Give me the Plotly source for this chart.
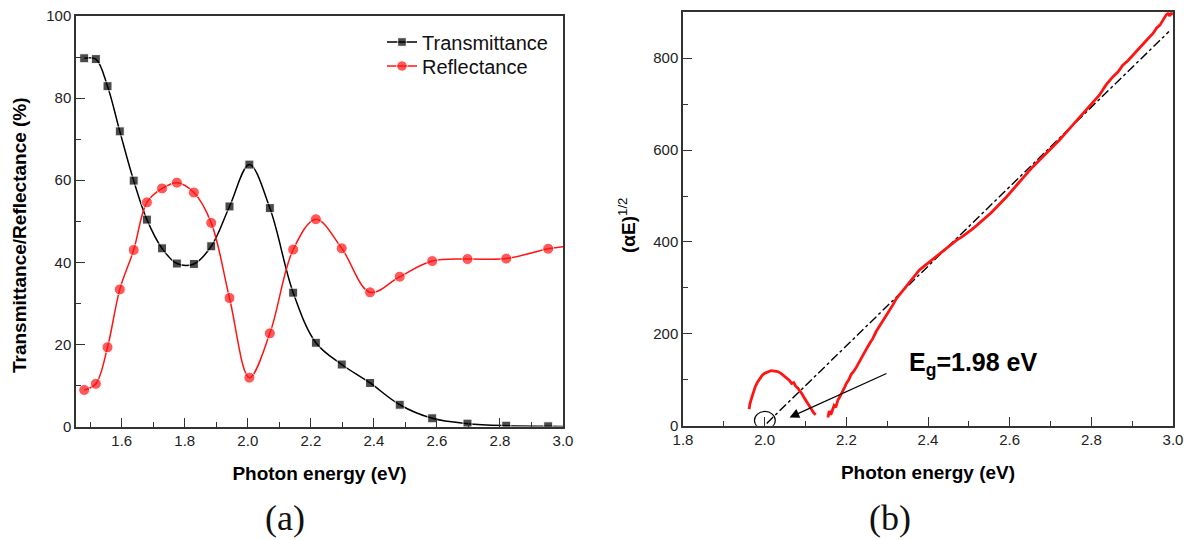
import plotly.graph_objects as go

# ---------------- data: panel (a) ----------------
energy_a = [1.481, 1.518, 1.555, 1.594, 1.638, 1.680, 1.728, 1.775, 1.829, 1.884, 1.942,
            2.005, 2.070, 2.144, 2.216, 2.298, 2.388, 2.482, 2.585, 2.697, 2.820, 2.953, 3.0]
transmittance = [89.7, 89.5, 82.9, 71.9, 59.9, 50.4, 43.4, 39.7, 39.6, 43.9, 53.6,
                 63.8, 53.2, 32.6, 20.4, 15.1, 10.6, 5.3, 2.0, 0.7, 0.2, 0.05, 0.0]
reflectance = [8.9, 10.4, 19.3, 33.4, 43.0, 54.6, 58.0, 59.4, 57.0, 49.6, 31.3,
               11.9, 22.7, 43.1, 50.5, 43.4, 32.7, 36.5, 40.3, 40.8, 40.9, 43.3, 43.8]
marker_on = [1] * 22 + [0]   # last entry is only the curve end at 3.0 eV

# ---------------- data: panel (b) ----------------
hump_x = [1.962, 1.964, 1.968, 1.972, 1.977, 1.982, 1.988, 1.994, 2.000, 2.008, 2.016, 2.024,
          2.032, 2.040, 2.047, 2.053, 2.060, 2.066, 2.071, 2.076, 2.082, 2.087, 2.091, 2.096,
          2.100, 2.104, 2.108, 2.112, 2.116, 2.120, 2.125]
hump_y = [36, 48, 60, 74, 85, 94, 103, 110, 114, 117, 120, 119,
          118, 114, 109, 103, 99, 92, 94, 86, 81, 74, 70, 62,
          56, 52, 44, 40, 33, 28, 24]

rise_x = [2.155, 2.158, 2.162, 2.166, 2.170, 2.174, 2.179, 2.184, 2.190, 2.196, 2.200, 2.206,
          2.212, 2.218, 2.225, 2.232, 2.240, 2.248, 2.257, 2.265, 2.273, 2.281, 2.290, 2.298,
          2.306, 2.314, 2.322, 2.331, 2.340, 2.350, 2.360, 2.370, 2.379, 2.390, 2.400, 2.410,
          2.420, 2.432, 2.445, 2.458, 2.470, 2.483, 2.495, 2.507, 2.518, 2.530, 2.542, 2.554,
          2.566, 2.579, 2.592, 2.606, 2.620, 2.638, 2.657, 2.673, 2.690, 2.706, 2.722, 2.738,
          2.755, 2.771, 2.788, 2.804, 2.820, 2.836, 2.853, 2.865, 2.877, 2.890, 2.902, 2.914,
          2.925, 2.938, 2.951, 2.960, 2.968, 2.976, 2.983, 2.988, 2.992, 2.996, 3.000]
rise_y = [18, 32, 24, 36, 44, 40, 55, 63, 72, 84, 92, 100,
          112, 118, 128, 140, 152, 165, 179, 190, 205, 216, 230, 240,
          252, 263, 276, 286, 298, 308, 320, 331, 339, 347, 355, 361,
          368, 377, 386, 395, 404, 411, 420, 427, 435, 444, 453, 463,
          474, 485, 498, 512, 527, 545, 564, 578, 594, 608, 622, 638,
          655, 671, 687, 703, 720, 742, 760, 770, 785, 795, 807, 820,
          830, 842, 854, 866, 872, 884, 894, 898, 892, 899, 895]

fit_x = [2.005, 2.990]
fit_y = [5, 858]

# ---------------- figure ----------------
RED = "#ff1414"
fig = go.Figure()

fig.add_trace(go.Scatter(
    x=energy_a, y=transmittance, name="Transmittance", mode="lines+markers",
    line=dict(color="black", width=1.5, shape="spline", smoothing=1.0),
    marker=dict(symbol="square", size=[9 * m for m in marker_on], color="black"),
    xaxis="x", yaxis="y", legend="legend"))
fig.add_trace(go.Scatter(
    x=energy_a, y=reflectance, name="Reflectance", mode="lines+markers",
    line=dict(color=RED, width=1.5, shape="spline", smoothing=1.0),
    marker=dict(symbol="circle", size=[11 * m for m in marker_on], color=RED),
    xaxis="x", yaxis="y", legend="legend2"))

fig.add_trace(go.Scatter(
    x=fit_x, y=fit_y, mode="lines", showlegend=False,
    line=dict(color="black", width=1.4, dash="dashdot"),
    xaxis="x2", yaxis="y2"))
fig.add_trace(go.Scatter(
    x=hump_x, y=hump_y, mode="lines", showlegend=False,
    line=dict(color=RED, width=2.8),
    xaxis="x2", yaxis="y2"))
fig.add_trace(go.Scatter(
    x=rise_x, y=rise_y, mode="lines", showlegend=False,
    line=dict(color=RED, width=2.8),
    xaxis="x2", yaxis="y2"))

W, H = 1196, 540
axis_common = dict(
    showgrid=False, zeroline=False, showline=True, linecolor="#333", linewidth=1.5,
    mirror=True, ticks="inside", ticklen=9, tickwidth=1.3, tickcolor="#333",
    tickfont=dict(family="Liberation Sans", size=15, color="#222"),
    minor=dict(ticks="inside", ticklen=5, tickwidth=1.2, tickcolor="#333"),
    automargin=False,
)
title_font = dict(family="Liberation Sans", size=19, color="black")
legend_font = dict(family="Liberation Sans", size=20, color="#111")
leg_common = dict(xanchor="left", yanchor="middle", bgcolor="rgba(0,0,0,0)",
                  font=legend_font, itemwidth=30, borderwidth=0)

fig.update_layout(
    width=W, height=H, margin=dict(l=0, r=0, t=0, b=0, autoexpand=False),
    paper_bgcolor="white", plot_bgcolor="white",
    showlegend=True,
    legend=dict(x=382 / W, y=1 - 42 / H, **leg_common),
    legend2=dict(x=382 / W, y=1 - 66 / H, **leg_common),
    xaxis=dict(domain=[76 / W, 563 / W], range=[1.455, 3.0], tick0=0, dtick=0.2,
               tickformat=".1f", anchor="y",
               title=dict(text="<b>Photon energy (eV)</b>", font=title_font, standoff=18),
               **axis_common),
    yaxis=dict(domain=[1 - 426.5 / H, 1 - 16 / H], range=[0, 100], tick0=0, dtick=20,
               anchor="x", **axis_common),
    xaxis2=dict(domain=[683 / W, 1173 / W], range=[1.8, 3.0], tick0=0, dtick=0.2,
                tickformat=".1f", anchor="y2",
                title=dict(text="<b>Photon energy (eV)</b>", font=title_font, standoff=18),
                **axis_common),
    yaxis2=dict(domain=[1 - 425.7 / H, 1 - 12.3 / H], range=[0, 900], tick0=0, dtick=200,
                anchor="x2", **axis_common),
)
fig.layout.xaxis.minor.dtick = 0.1
fig.layout.xaxis2.minor.dtick = 0.1
fig.layout.yaxis.minor.dtick = 10
fig.layout.yaxis2.minor.dtick = 100
fig.layout.yaxis2.tickvals = [0, 200, 400, 600, 800]

annotations = [
    dict(text="<b>Transmittance/Reflectance (%)</b>", x=20 / W, y=1 - 235 / H,
         xref="paper", yref="paper", textangle=-90, showarrow=False,
         xanchor="center", yanchor="middle", font=title_font),
    dict(text="<b>(αE)</b><sup>1/2</sup>", x=627 / W, y=1 - 225 / H,
         xref="paper", yref="paper", textangle=-90, showarrow=False,
         xanchor="center", yanchor="middle",
         font=dict(family="Liberation Sans", size=19, color="black")),
    dict(text="<b>E<sub>g</sub>=1.98 eV</b>", x=2.348, y=134, xref="x2", yref="y2",
         showarrow=False, xanchor="left", yanchor="middle",
         font=dict(family="Liberation Sans", size=25, color="black")),
    dict(text="", x=2.061, y=18, xref="x2", yref="y2", ax=2.302, ay=115,
         axref="x2", ayref="y2", showarrow=True, arrowhead=2, arrowsize=1.6,
         arrowwidth=1.2, arrowcolor="black"),
    dict(text="(a)", x=285 / W, y=1 - 518 / H, xref="paper", yref="paper",
         showarrow=False, xanchor="center", yanchor="middle",
         font=dict(family="Liberation Serif", size=36, color="#111")),
    dict(text="(b)", x=890 / W, y=1 - 518 / H, xref="paper", yref="paper",
         showarrow=False, xanchor="center", yanchor="middle",
         font=dict(family="Liberation Serif", size=36, color="#111")),
]
fig.update_layout(annotations=annotations)

fig.add_shape(type="circle", xref="x2", yref="y2", x0=1.975, x1=2.026, y0=-8, y1=31,
              line=dict(color="black", width=1.2))

fig.write_html("out.html")
